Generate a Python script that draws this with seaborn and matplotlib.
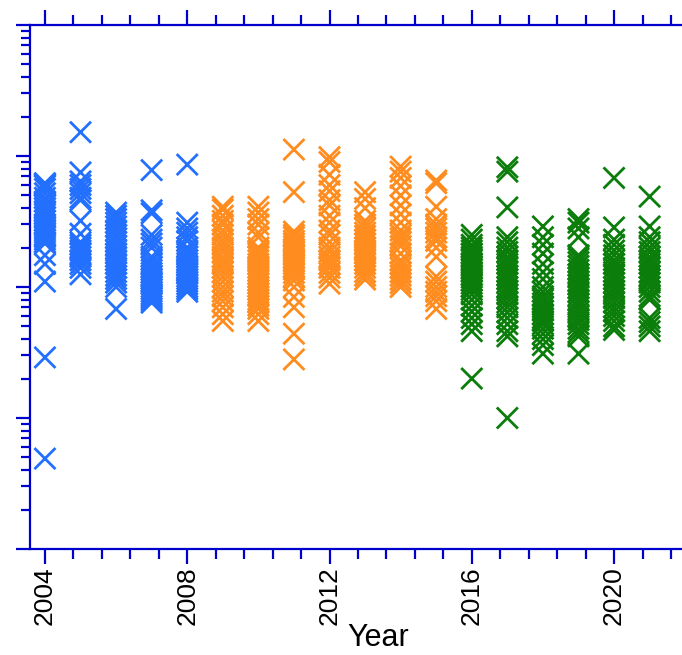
import matplotlib
matplotlib.use("Agg")
import matplotlib.pyplot as plt
from matplotlib.ticker import FixedLocator, MultipleLocator, LogLocator, NullFormatter
import seaborn as sns
import pandas as pd

# ---- data (arbitrary log-scale units) ----
years = list(range(2004, 2022))
y2004 = [620, 610, 600, 590, 560, 520, 480, 450, 420, 400, 380, 360, 340, 320, 300, 290,
         280, 270, 260, 250, 240, 230, 220, 215, 175, 150, 110, 29, 4.9]
y2005 = [1520, 750, 640, 600, 560, 520, 480, 460, 320, 255, 220, 210, 200, 190, 180, 170,
         160, 150, 140, 125]
y2006 = [370, 350, 330, 310, 290, 270, 250, 235, 220, 205, 190, 180, 170, 160, 150, 140,
         130, 122, 115, 108, 100, 68]
y2007 = [780, 385, 365, 250, 230, 215, 200, 170, 160, 150, 142, 135, 128, 122, 116, 110,
         105, 100, 96, 92, 88, 85, 82, 79, 76]
y2008 = [860, 310, 280, 260, 240, 225, 200, 190, 180, 170, 160, 152, 145, 138, 132, 126,
         120, 115, 110, 105, 100, 96, 92]
y2009 = [410, 390, 350, 320, 300, 270, 250, 230, 215, 200, 185, 170, 160, 150, 140, 130,
         120, 110, 100, 92, 85, 78, 70, 62, 55]
y2010 = [410, 370, 330, 300, 260, 240, 200, 190, 180, 170, 160, 150, 140, 132, 125, 118,
         112, 106, 100, 95, 90, 85, 80, 76, 72, 68, 62, 55]
y2011 = [1120, 530, 265, 250, 240, 225, 215, 205, 195, 185, 175, 165, 158, 150, 143, 136,
         128, 120, 112, 100, 84, 70, 44, 28]
y2012 = [980, 900, 720, 600, 540, 460, 420, 350, 310, 270, 250, 220, 200, 185, 170, 160,
         150, 140, 128, 118, 106]
y2013 = [530, 470, 400, 320, 300, 280, 260, 245, 230, 215, 200, 190, 180, 170, 160, 150,
         140, 130, 122, 114]
y2014 = [830, 760, 680, 590, 500, 420, 360, 310, 270, 250, 235, 220, 205, 180, 160, 150,
         140, 130, 122, 114, 107, 100]
y2015 = [650, 620, 410, 330, 300, 280, 260, 240, 225, 200, 170, 120, 110, 100, 92, 85, 78, 68]
y2016 = [250, 230, 210, 200, 190, 180, 170, 160, 152, 145, 138, 130, 124, 118, 112, 106,
         100, 95, 88, 80, 72, 65, 58, 52, 46, 20]
y2017 = [820, 760, 405, 240, 220, 200, 185, 170, 160, 150, 140, 130, 122, 115, 108, 100,
         94, 88, 82, 76, 70, 64, 58, 52, 46, 42, 10]
y2018 = [290, 240, 210, 180, 150, 130, 115, 100, 92, 85, 80, 75, 70, 66, 62, 58, 55, 52,
         48, 44, 40, 36, 31]
y2019 = [330, 310, 280, 240, 175, 165, 155, 145, 135, 125, 118, 110, 104, 98, 92, 86, 80,
         75, 70, 65, 60, 56, 52, 48, 45, 42, 31]
y2020 = [680, 285, 230, 210, 190, 175, 160, 150, 140, 130, 122, 115, 108, 100, 94, 88, 82,
         76, 70, 65, 60, 55, 50, 47]
y2021 = [490, 290, 240, 220, 200, 185, 170, 160, 150, 140, 130, 122, 115, 108, 100, 92,
         85, 80, 58, 54, 50, 46]
series = [y2004, y2005, y2006, y2007, y2008, y2009, y2010, y2011, y2012, y2013, y2014,
          y2015, y2016, y2017, y2018, y2019, y2020, y2021]
periods = ["A"] * 5 + ["B"] * 7 + ["C"] * 6
period_colors = {"A": "#2370FF", "B": "#FF8C1E", "C": "#0A7D0A"}
major_years = [2004, 2008, 2012, 2016, 2020]

rows = []
for yr, vals, per in zip(years, series, periods):
    for v in vals:
        rows.append({"Year": yr, "value": v, "period": per})
df = pd.DataFrame(rows)

# ---- figure ----
sns.set_theme(style="white")
plt.rcParams["font.family"] = ["Liberation Sans", "DejaVu Sans"]
axcol = "#0000CC"

fig = plt.figure(figsize=(6.82, 6.55), dpi=100)
ax = fig.add_axes([30 / 682, 1 - 549 / 655, 1 - 30 / 682, 524 / 655])

sns.scatterplot(data=df, x="Year", y="value", hue="period", palette=period_colors,
                marker="x", s=230, linewidth=2.0, legend=False, ax=ax, zorder=3)

ax.set_yscale("log")
ax.set_ylim(1, 1e4)
ax.set_xlim(2003.58, 2021.91)

ax.xaxis.set_major_locator(FixedLocator(major_years))
ax.xaxis.set_minor_locator(MultipleLocator(0.8))
ax.set_xticklabels([str(y) for y in major_years], rotation=90, fontsize=19)
ax.yaxis.set_major_locator(LogLocator(base=10, numticks=10))
ax.yaxis.set_minor_locator(LogLocator(base=10, subs=range(2, 10), numticks=20))
ax.yaxis.set_major_formatter(NullFormatter())
ax.yaxis.set_minor_formatter(NullFormatter())
ax.set_ylabel("")

for side in ["left", "bottom", "top"]:
    ax.spines[side].set_color(axcol)
    ax.spines[side].set_linewidth(1.6)
ax.spines["right"].set_visible(False)

ax.tick_params(axis="x", which="both", direction="out", color=axcol, width=1.6,
               top=True, bottom=True, labeltop=False, labelbottom=True,
               labelcolor="black", pad=2)
ax.tick_params(axis="x", which="major", length=10.5)
ax.tick_params(axis="x", which="minor", length=7)
ax.tick_params(axis="y", which="both", direction="out", color=axcol, width=1.6,
               left=True, right=False)
ax.tick_params(axis="y", which="major", length=10)
ax.tick_params(axis="y", which="minor", length=6.5)

ax.set_xlabel("Year", fontsize=22, color="black")
ax.xaxis.set_label_coords(0.534, -0.141)
ax.xaxis.label.set_va("top")
ax.grid(False)

fig.savefig("out.png", dpi=100)
